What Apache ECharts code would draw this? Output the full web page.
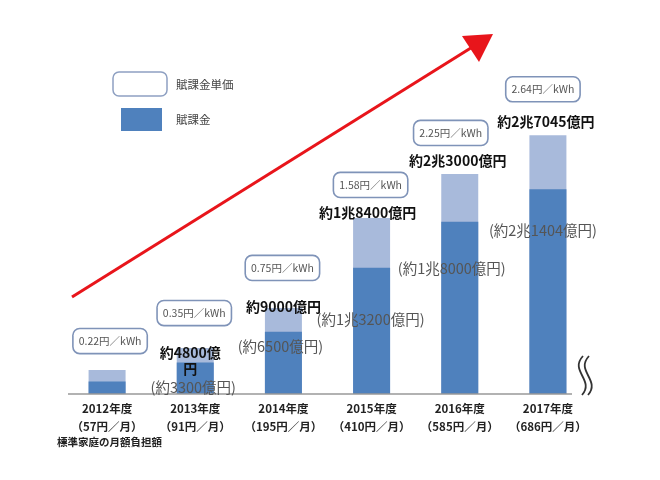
<!DOCTYPE html>
<html><head><meta charset="utf-8">
<script src="https://cdn.jsdelivr.net/npm/echarts@6/dist/echarts.min.js"></script>
<style>html,body{margin:0;padding:0;background:#fff}#c{width:660px;height:480px}</style>
</head><body><div id="c"></div>
<script>
const categories = ['2012年度','2013年度','2014年度','2015年度','2016年度','2017年度'];
const monthlyBurden = ['57','91','195','410','585','686'];
const totalCost = [2500, 4800, 9000, 18400, 23000, 27045];      // 億円 (light bar)
const surcharge = [1300, 3300, 6500, 13200, 18000, 21404];      // 億円 (dark bar)
const unitPrice = ['0.22','0.35','0.75','1.58','2.25','2.64'];  // 円/kWh
const totalLabels = [null,'約4800億\n円','約9000億円','約1兆8400億円','約2兆3000億円','約2兆7045億円'];
const surchargeLabels = [null,'(約3300億円)','(約6500億円)','(約1兆3200億円)','(約1兆8000億円)','(約2兆1404億円)'];

// layout offsets (px) relative to bar tops
const totalLblOff = [null,[-5,13],[0,-1],[-4,-5],[-2,-13],[-2,-14]];
const surLblOff = [null,[-2,25],[-3,15],[-1,52],[-8,47],[-5,41]];
const boxOff = [[3,-29],[-1,-35],[-1,-40],[-1,-33],[-9,-41],[-5,-46]];

const FONT = '"Noto Sans CJK JP","Noto Sans",sans-serif';
const chart = echarts.init(document.getElementById('c'));
chart.setOption({
  animation:false,
  backgroundColor:'#fff',
  grid:{left:63,right:68,top:107,bottom:86},
  xAxis:{type:'category',data:categories,
    axisLine:{show:false},axisTick:{show:false},
    axisLabel:{interval:0,margin:6,lineHeight:18,color:'#222',fontWeight:'bold',fontSize:11.5,fontFamily:FONT,
      formatter:(v,i)=>v+'\n（'+monthlyBurden[i]+'円／月）'}},
  yAxis:{type:'value',min:0,max:30000,show:false},
  series:[
    {name:'買取費用',type:'bar',data:totalCost,barWidth:37,itemStyle:{color:'#a8badb'},z:2},
    {name:'賦課金',type:'bar',data:surcharge,barWidth:37,barGap:'-100%',itemStyle:{color:'#4f81bd'},z:3}
  ]
});

const g = [];
const base = chart.convertToPixel({gridIndex:0},[0,0]);
// baseline
g.push({type:'line',shape:{x1:68,y1:base[1],x2:572,y2:base[1]},style:{stroke:'#999',lineWidth:1.5},z:10});
// break mark
[0,6].forEach(d=>{
  g.push({type:'bezierCurve',shape:{x1:583+d,y1:356,cpx1:569+d,cpy1:371,cpx2:595+d,cpy2:380,x2:582+d,y2:395},
    style:{stroke:'#333',lineWidth:1.8,fill:null},z:10});
});
categories.forEach((c,i)=>{
  const pT = chart.convertToPixel({gridIndex:0},[i,totalCost[i]]);
  const pS = chart.convertToPixel({gridIndex:0},[i,surcharge[i]]);
  g.push({type:'text',z:20,style:{text:unitPrice[i]+'円／kWh',x:pT[0]+boxOff[i][0],y:pT[1]+boxOff[i][1],
    align:'center',verticalAlign:'middle',fill:'#555',fontSize:10.5,fontFamily:FONT,
    backgroundColor:'#fff',borderColor:'#7f93b8',borderWidth:1.6,borderRadius:6,padding:[7,5,6,5]}});
  if(totalLabels[i]){
    g.push({type:'text',z:21,style:{text:totalLabels[i],x:pT[0]+totalLblOff[i][0],y:pT[1]+totalLblOff[i][1],
      align:'center',verticalAlign:'middle',fill:'#111',fontSize:14,fontWeight:'bold',fontFamily:FONT,lineHeight:16}});
  }
  if(surchargeLabels[i]){
    g.push({type:'text',z:21,style:{text:surchargeLabels[i],x:pS[0]+surLblOff[i][0],y:pS[1]+surLblOff[i][1],
      align:'center',verticalAlign:'middle',fill:'#555',fontSize:14.5,fontFamily:FONT}});
  }
});
// note under first category
g.push({type:'text',z:20,style:{text:'標準家庭の月額負担額',x:57,y:442,align:'left',verticalAlign:'middle',
  fill:'#222',fontSize:10.5,fontWeight:'bold',fontFamily:FONT}});
// legend
g.push({type:'rect',shape:{x:113,y:72,width:54,height:24,r:6},style:{fill:'#fff',stroke:'#8ea0c2',lineWidth:1.5},z:20});
g.push({type:'text',z:20,style:{text:'賦課金単価',x:176,y:85,verticalAlign:'middle',fill:'#444',fontSize:11.5,fontFamily:FONT}});
g.push({type:'rect',shape:{x:121,y:108,width:41,height:23},style:{fill:'#4f81bd'},z:20});
g.push({type:'text',z:20,style:{text:'賦課金',x:176,y:120,verticalAlign:'middle',fill:'#444',fontSize:11.5,fontFamily:FONT}});
// red arrow
g.push({type:'line',shape:{x1:72,y1:297,x2:474,y2:46},style:{stroke:'#e8151b',lineWidth:3},z:15});
g.push({type:'polygon',shape:{points:[[462,36],[493,34],[479,62]]},style:{fill:'#e8151b'},z:15});
chart.setOption({graphic:g});
</script></body></html>
